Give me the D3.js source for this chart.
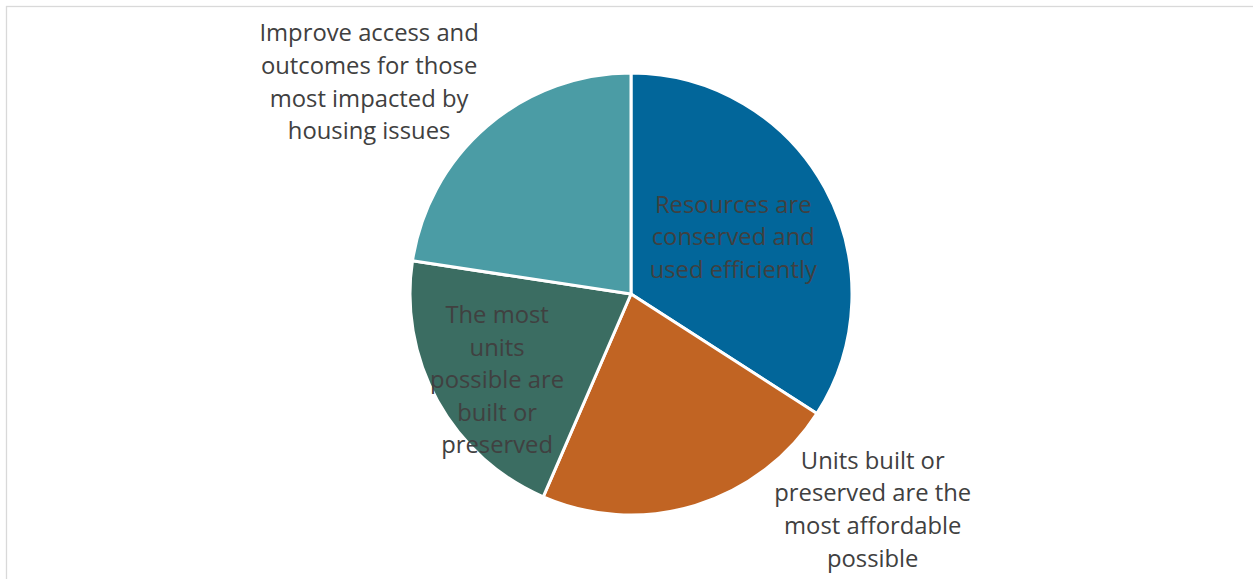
<!DOCTYPE html>
<html>
<head>
<meta charset="utf-8">
<script src="https://cdn.jsdelivr.net/npm/d3@7"></script>
<style>
  html, body { margin: 0; padding: 0; background: #fff; }
  svg { display: block; }
  text { font-family: "Open Sans", "Noto Sans", sans-serif; }
</style>
</head>
<body>
<svg id="chart" width="1253" height="579"></svg>
<script>
// Goals and their share of the allocation
const categories = [
  "Resources are conserved and used efficiently",
  "Units built or preserved are the most affordable possible",
  "The most units possible are built or preserved",
  "Improve access and outcomes for those most impacted by housing issues"
];
const values = [34.1, 22.4, 20.9, 22.6];

// Wrapped label lines, one list per category
const labelLines = [
  ["Resources are", "conserved and", "used efficiently"],
  ["Units built or", "preserved are the", "most affordable", "possible"],
  ["The most", "units", "possible are", "built or", "preserved"],
  ["Improve access and", "outcomes for those", "most impacted by", "housing issues"]
];

const colors = ["#02669a", "#c16423", "#3b6d62", "#4b9ca5"];

// Label placement in polar form: angle (degrees clockwise from 12 o'clock)
// and distance from the pie centre as a multiple of the radius
const labelPolar = [
  { angle: 60.8, dist: 0.53 },
  { angle: 131.7, dist: 1.465 },
  { angle: 237.3, dist: 0.72 },
  { angle: 309.0, dist: 1.525 }
];

const width = 1253, height = 579;
const cx = 631, cy = 294, radius = 221;
const fontSize = 23.8, lineHeight = 32.6;

const svg = d3.select("#chart");

// Chart frame
svg.append("rect")
  .attr("x", 6.5).attr("y", 6.5)
  .attr("width", width).attr("height", height)
  .attr("fill", "none")
  .attr("stroke", "#d9d9d9")
  .attr("stroke-width", 1.3);

const pie = d3.pie().sort(null).value(d => d)(values);
const arc = d3.arc().innerRadius(0).outerRadius(radius);

const g = svg.append("g").attr("transform", `translate(${cx},${cy})`);

g.selectAll("path.slice")
  .data(pie)
  .join("path")
  .attr("class", "slice")
  .attr("d", arc)
  .attr("fill", (d, i) => colors[i])
  .attr("stroke", "#ffffff")
  .attr("stroke-width", 3)
  .attr("stroke-linejoin", "round");

// Data labels
g.selectAll("text.label")
  .data(pie)
  .join("text")
  .attr("class", "label")
  .attr("text-anchor", "middle")
  .attr("font-size", fontSize)
  .attr("fill", "#404040")
  .each(function(d, i) {
    const p = labelPolar[i];
    const a = p.angle * Math.PI / 180;
    const x = Math.sin(a) * p.dist * radius;
    const y = -Math.cos(a) * p.dist * radius;
    const lines = labelLines[i];
    const t = d3.select(this);
    lines.forEach((line, k) => {
      t.append("tspan")
        .attr("x", x)
        .attr("y", y + (k - (lines.length - 1) / 2) * lineHeight)
        .attr("dy", "0.35em")
        .text(line);
    });
  });
</script>
</body>
</html>
